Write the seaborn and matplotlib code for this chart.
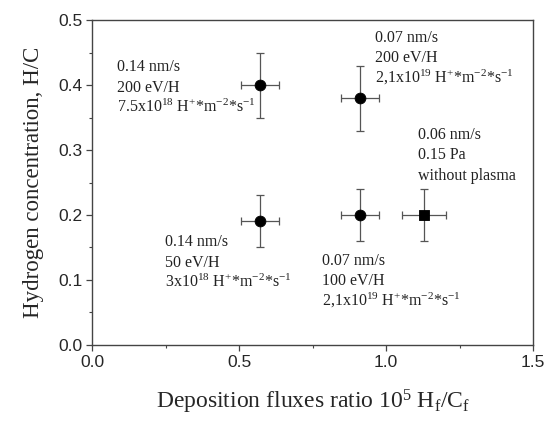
import matplotlib
matplotlib.use('Agg')
import matplotlib.pyplot as plt
import seaborn as sns
import pandas as pd
from matplotlib.ticker import MultipleLocator

# measured points (circles = plasma, square = without plasma)
ratio = [0.57, 0.91, 0.57, 0.91]
conc = [0.40, 0.38, 0.19, 0.20]
ratio_err = [0.065, 0.065, 0.065, 0.065]
conc_err = [0.05, 0.05, 0.04, 0.04]

sq_ratio = [1.13]
sq_conc = [0.20]
sq_ratio_err = [0.075]
sq_conc_err = [0.04]

labels = [
    ['0.14 nm/s', '200 eV/H', r'7.5x10$^{18}$ H$^{+}$*m$^{-2}$*s$^{-1}$'],
    ['0.07 nm/s', '200 eV/H', r'2,1x10$^{19}$ H$^{+}$*m$^{-2}$*s$^{-1}$'],
    ['0.06 nm/s', '0.15 Pa', 'without plasma'],
    ['0.14 nm/s', '50 eV/H', r'3x10$^{18}$ H$^{+}$*m$^{-2}$*s$^{-1}$'],
    ['0.07 nm/s', '100 eV/H', r'2,1x10$^{19}$ H$^{+}$*m$^{-2}$*s$^{-1}$'],
]
label_x = [0.085, 0.963, 1.109, 0.248, 0.782]
label_y = [0.421, 0.467, 0.317, 0.152, 0.123]

sns.set_style('ticks')
plt.rcParams['mathtext.fontset'] = 'custom'
plt.rcParams['mathtext.rm'] = 'Liberation Serif'
plt.rcParams['mathtext.it'] = 'Liberation Serif:italic'
plt.rcParams['mathtext.bf'] = 'Liberation Serif:bold'

ERR_COLOR = '#555555'
SERIF = 'Liberation Serif'

fig = plt.figure(figsize=(5.49, 4.21), dpi=100)
ax = fig.add_axes([0.168, 0.181, 0.803, 0.771])

df = pd.DataFrame({'ratio': ratio, 'conc': conc})
ax.errorbar(ratio, conc, xerr=ratio_err, yerr=conc_err, fmt='none',
            ecolor=ERR_COLOR, elinewidth=0.9, capsize=3, capthick=0.9)
ax.errorbar(sq_ratio, sq_conc, xerr=sq_ratio_err, yerr=sq_conc_err, fmt='none',
            ecolor=ERR_COLOR, elinewidth=0.9, capsize=3, capthick=0.9)
sns.scatterplot(data=df, x='ratio', y='conc', marker='o', s=60, color='black',
                edgecolor='black', ax=ax, zorder=5)
sns.scatterplot(x=sq_ratio, y=sq_conc, marker='s', s=60, color='black',
                edgecolor='black', ax=ax, zorder=5)

for lines, lx, ly in zip(labels, label_x, label_y):
    for i, line in enumerate(lines):
        ax.text(lx, ly - i * 0.0315, line, fontsize=11.5, family=SERIF,
                color='#222222', va='baseline', ha='left')

ax.set_xlim(0, 1.5)
ax.set_ylim(0, 0.5)
ax.xaxis.set_major_locator(MultipleLocator(0.5))
ax.xaxis.set_minor_locator(MultipleLocator(0.25))
ax.yaxis.set_major_locator(MultipleLocator(0.1))
ax.yaxis.set_minor_locator(MultipleLocator(0.05))
ax.tick_params(which='major', length=4, width=0.9, color='#444444',
               labelsize=12.5, pad=3)
ax.tick_params(which='minor', length=2.5, width=0.8, color='#444444')
for lab in ax.get_xticklabels() + ax.get_yticklabels():
    lab.set_family('Liberation Sans')
for sp in ax.spines.values():
    sp.set_visible(True)
    sp.set_color('#444444')
    sp.set_linewidth(1.0)

ax.set_xlabel(r'Deposition fluxes ratio 10$^{5}$ H$_{\mathrm{f}}$/C$_{\mathrm{f}}$',
              fontsize=17, family=SERIF, labelpad=13)
ax.set_ylabel('Hydrogen concentration, H/C', fontsize=16.5, family=SERIF,
              labelpad=10)

fig.savefig('out.png', dpi=100)
